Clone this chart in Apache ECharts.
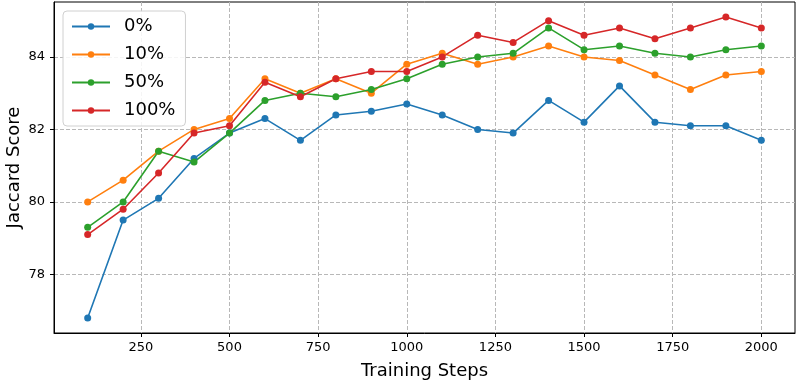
<!DOCTYPE html>
<html>
<head>
<meta charset="utf-8">
<script src="https://cdn.jsdelivr.net/npm/echarts@6/dist/echarts.min.js"></script>
<style>
  html, body { margin: 0; padding: 0; background: #fff; }
  #main { width: 797px; height: 384px; }
</style>
</head>
<body>
<div id="main"></div>
<script>
// training steps
var steps = [100, 200, 300, 400, 500, 600, 700, 800, 900, 1000,
             1100, 1200, 1300, 1400, 1500, 1600, 1700, 1800, 1900, 2000];
var names = ['0%', '10%', '50%', '100%'];
var colors = ['#1f77b4', '#ff7f0e', '#2ca02c', '#d62728'];

var s0 = [76.8, 79.5, 80.1, 81.2, 81.9, 82.3, 81.7, 82.4, 82.5, 82.7,
          82.4, 82.0, 81.9, 82.8, 82.2, 83.2, 82.2, 82.1, 82.1, 81.7];
var s10 = [80.0, 80.6, 81.4, 82.0, 82.3, 83.4, 83.0, 83.4, 83.0, 83.8,
           84.1, 83.8, 84.0, 84.3, 84.0, 83.9, 83.5, 83.1, 83.5, 83.6];
var s50 = [79.3, 80.0, 81.4, 81.1, 81.9, 82.8, 83.0, 82.9, 83.1, 83.4,
           83.8, 84.0, 84.1, 84.8, 84.2, 84.3, 84.1, 84.0, 84.2, 84.3];
var s100 = [79.1, 79.8, 80.8, 81.9, 82.1, 83.3, 82.9, 83.4, 83.6, 83.6,
            84.0, 84.6, 84.4, 85.0, 84.6, 84.8, 84.5, 84.8, 85.1, 84.8];

var xTicks = [250, 500, 750, 1000, 1250, 1500, 1750, 2000];
var yTicks = [78, 80, 82, 84];

var chart = echarts.init(document.getElementById('main'), null, { renderer: 'canvas' });
var font = 'DejaVu Sans';

function pairs(ys) {
  return steps.map(function (x, i) { return [x, ys[i]]; });
}

var series = [s0, s10, s50, s100].map(function (ys, i) {
  return {
    name: names[i],
    type: 'line',
    data: pairs(ys),
    symbol: 'circle',
    symbolSize: 7,
    showSymbol: true,
    color: colors[i],
    lineStyle: { width: 1.6, color: colors[i] },
    itemStyle: { color: colors[i] },
    animation: false
  };
});

var gridLine = { show: true, lineStyle: { color: '#b8b8b8', type: [4, 2], width: 1 } };

var option = {
  backgroundColor: '#fff',
  animation: false,
  grid: {
    left: 54, right: 2, top: 2, bottom: 51,
    outerBoundsMode: 'none',
    show: true, borderColor: '#000', borderWidth: 1
  },
  legend: {
    orient: 'vertical',
    left: 63, top: 11,
    data: names,
    itemWidth: 38, itemHeight: 8,
    itemGap: 9,
    padding: [6, 10, 6, 8],
    backgroundColor: 'rgba(255,255,255,0.85)',
    borderColor: '#d0d0d0', borderWidth: 1, borderRadius: 4,
    textStyle: { fontFamily: font, fontSize: 18, lineHeight: 19, color: '#000', padding: [0, 0, 0, 9] }
  },
  xAxis: {
    type: 'value',
    min: 5, max: 2095,
    name: 'Training Steps',
    nameLocation: 'middle',
    nameGap: 29,
    nameMoveOverlap: false,
    nameTextStyle: { fontFamily: font, fontSize: 18, color: '#000' },
    axisLine: { show: true, onZero: false, lineStyle: { color: '#000', width: 1 } },
    axisTick: { show: true, length: 4, lineStyle: { color: '#000' }, customValues: xTicks },
    axisLabel: {
      customValues: xTicks, fontFamily: font, fontSize: 13, color: '#000', margin: 8,
      formatter: function (v) { return String(v); }
    },
    splitLine: gridLine
  },
  yAxis: {
    type: 'value',
    min: 76.385, max: 85.515,
    name: 'Jaccard Score',
    nameLocation: 'middle',
    nameGap: 31,
    nameMoveOverlap: false,
    nameTextStyle: { fontFamily: font, fontSize: 18, color: '#000' },
    axisLine: { show: true, onZero: false, lineStyle: { color: '#000', width: 1 } },
    axisTick: { show: true, length: 4, lineStyle: { color: '#000' }, customValues: yTicks },
    axisLabel: {
      customValues: yTicks, fontFamily: font, fontSize: 13, color: '#000', margin: 9,
      formatter: function (v) { return String(v); }
    },
    splitLine: gridLine
  },
  series: series
};

chart.setOption(option);
</script>
</body>
</html>
